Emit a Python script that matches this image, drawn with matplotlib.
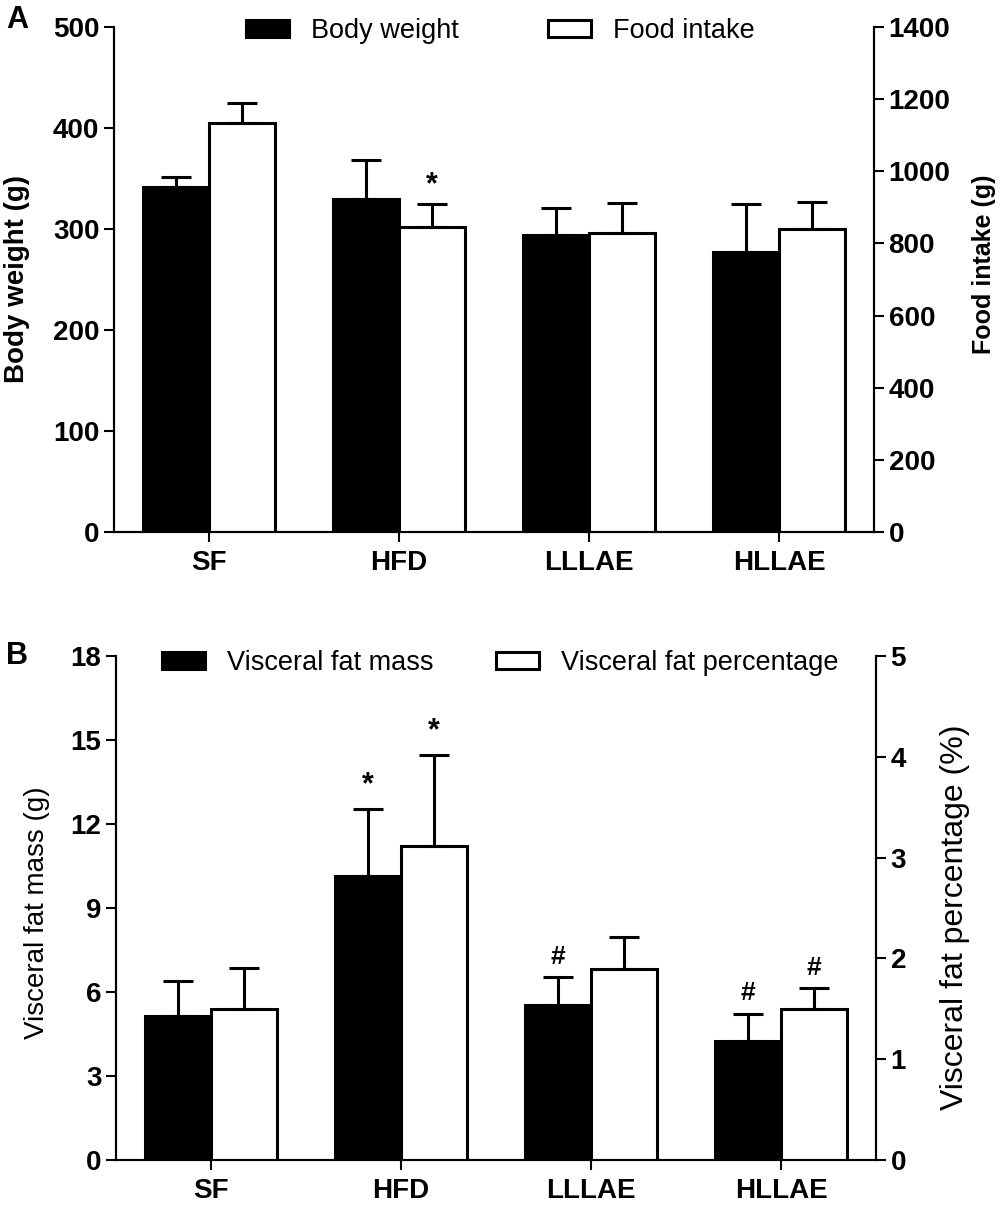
import numpy as np
import matplotlib
matplotlib.use('Agg')
import matplotlib.pyplot as plt
from matplotlib.patches import Patch

plt.rcParams['font.family'] = ['Liberation Sans', 'DejaVu Sans']

groups = ['SF', 'HFD', 'LLLAE', 'HLLAE']

# panel A
body_weight = [341, 330, 294, 277]
body_weight_err = [10, 38, 27, 48]
food_intake = [1132, 844, 828, 839]
food_intake_err = [55, 66, 83, 74]

# panel B
fat_mass = [5.15, 10.15, 5.53, 4.24]
fat_mass_err = [1.23, 2.4, 1.0, 0.98]
fat_pct = [1.50, 3.12, 1.90, 1.50]
fat_pct_err = [0.41, 0.90, 0.31, 0.21]

# significance marks: (group, series, text)
marks_a = [(1, 'right', '*')]
marks_b = [(1, 'left', '*'), (1, 'right', '*'), (2, 'left', '#'),
           (3, 'left', '#'), (3, 'right', '#')]

LW = 2.2
TFS = 20   # tick labels

fig = plt.figure(figsize=(10, 12.07), dpi=100)


def style_axis(ax):
    ax.tick_params(axis='both', direction='out', length=7, width=1.5,
                   labelsize=TFS)
    for lab in ax.get_xticklabels() + ax.get_yticklabels():
        lab.set_fontweight('bold')
    for s in ax.spines.values():
        s.set_linewidth(1.5)
    ax.spines['top'].set_visible(False)


def panel(rect, lv, le, rv, re, lmax, lticks, rmax, rticks,
          llab, lfont, lwt, lpos, rlab, rfont, rwt, rpos,
          marks, lmark_off, rmark_off, leg_labels, leg_y, colsp):
    x = np.arange(len(groups))
    w = 0.345
    ax = fig.add_axes(rect)
    ax2 = ax.twinx()
    ax.bar(x - w / 2, lv, w, color='black', edgecolor='black', linewidth=LW)
    ax.errorbar(x - w / 2, lv, yerr=[np.zeros(len(le)), le], fmt='none',
                ecolor='black', elinewidth=LW, capsize=11, capthick=LW)
    ax2.bar(x + w / 2, rv, w, color='white', edgecolor='black', linewidth=LW)
    ax2.errorbar(x + w / 2, rv, yerr=[np.zeros(len(re)), re], fmt='none',
                 ecolor='black', elinewidth=LW, capsize=11, capthick=LW)
    ax.set_xlim(-0.5, len(groups) - 0.5)
    ax.set_ylim(0, lmax)
    ax2.set_ylim(0, rmax)
    ax.set_yticks(lticks)
    ax2.set_yticks(rticks)
    ax.set_xticks(x)
    ax.set_xticklabels(groups)
    ax.tick_params(axis='x', length=8, pad=6)
    ax.set_ylabel(llab, fontsize=lfont, fontweight=lwt)
    ax2.set_ylabel(rlab, fontsize=rfont, fontweight=rwt)
    ax.yaxis.set_label_coords(*lpos)
    ax2.yaxis.set_label_coords(*rpos)
    style_axis(ax)
    style_axis(ax2)
    for g, side, t in marks:
        fs = 22 if t == '*' else 19
        if side == 'left':
            ax.text(g - w / 2, lv[g] + le[g] + lmark_off, t, ha='center',
                    va='bottom', fontsize=fs, fontweight='bold')
        else:
            ax2.text(g + w / 2, rv[g] + re[g] + rmark_off, t, ha='center',
                     va='bottom', fontsize=fs, fontweight='bold')
    handles = [Patch(facecolor='black', edgecolor='black', linewidth=LW),
               Patch(facecolor='white', edgecolor='black', linewidth=LW)]
    fig.legend(handles, leg_labels, loc='center', bbox_to_anchor=(0.5, leg_y),
               ncol=2, frameon=False, fontsize=19.5, handlelength=1.6,
               handleheight=0.6, handletextpad=0.8, columnspacing=colsp)
    return ax, ax2


panel([0.114, 0.559, 0.760, 0.419], body_weight, body_weight_err,
      food_intake, food_intake_err, 500, np.arange(0, 501, 100),
      1400, np.arange(0, 1401, 200),
      'Body weight (g)', 20, 'bold', (-0.110, 0.5),
      'Food intake (g)', 18, 'bold', (1.129, 0.53),
      marks_a, 6, 10, ['Body weight', 'Food intake'], 1 - 31 / 1207, 3.3)

panel([0.116, 0.0389, 0.760, 0.4176], fat_mass, fat_mass_err,
      fat_pct, fat_pct_err, 18, np.arange(0, 19, 3),
      5, np.arange(0, 6, 1),
      'Visceral fat mass (g)', 20, 'normal', (-0.087, 0.49),
      'Visceral fat percentage (%)', 23, 'normal', (1.084, 0.482),
      marks_b, 0.3, 0.08,
      ['Visceral fat mass', 'Visceral fat percentage'], 1 - 663 / 1207, 2.3)

fig.text(0.006, 1 - 20 / 1207, 'A', fontsize=22, fontweight='bold', va='center')
fig.text(0.006, 1 - 656 / 1207, 'B', fontsize=22, fontweight='bold', va='center')

fig.savefig('out.png', dpi=100)
